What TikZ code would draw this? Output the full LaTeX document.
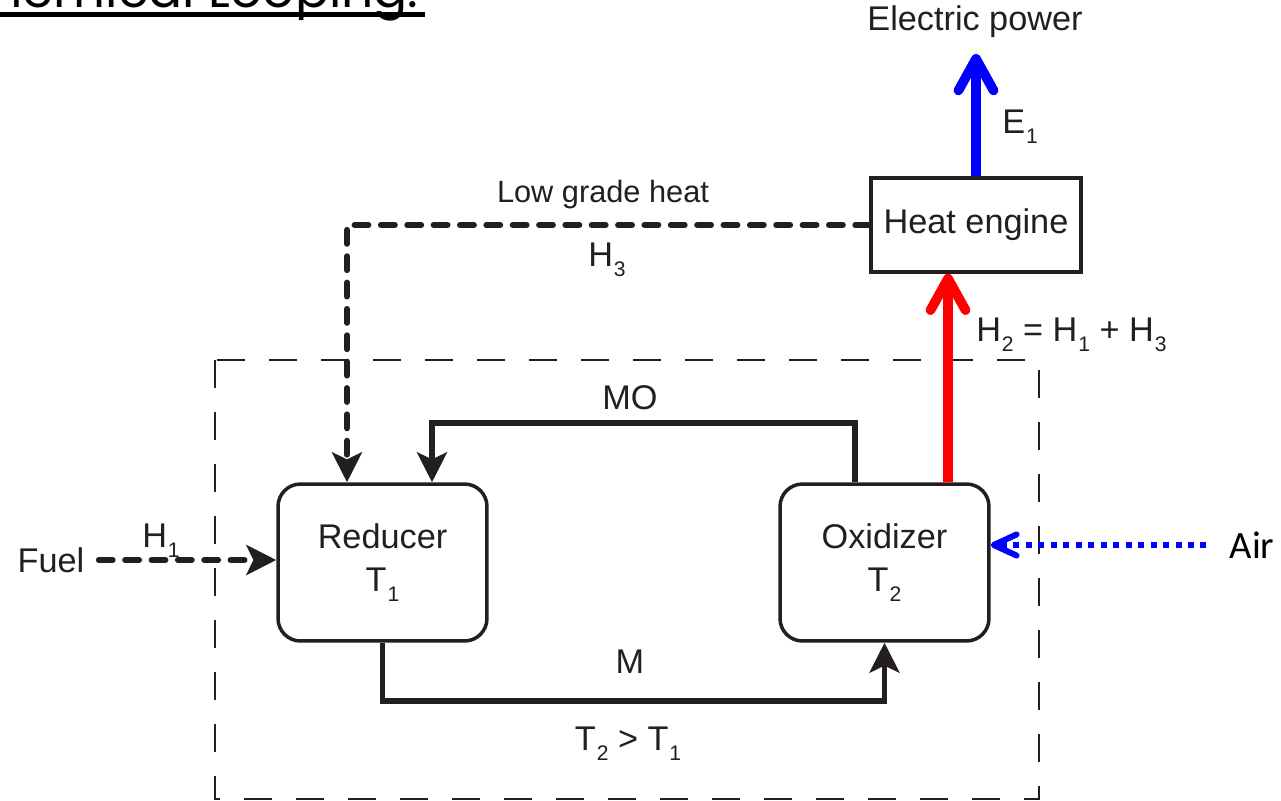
\documentclass[tikz,border=0pt]{standalone}
\usepackage{fontspec}
\setmainfont{Liberation Sans}
\newfontfamily\airfont{Carlito}
\newfontfamily\titlefont{Poppins}
\usepackage{tikz}
\usetikzlibrary{
  arrows.meta,
  positioning,
  calc
}
\definecolor{ink}{HTML}{231F20}
\definecolor{powerblue}{HTML}{0000FF}
\definecolor{hotred}{HTML}{FF0000}
\newcommand{\idx}[1]{\kern0.5pt\raisebox{-6pt}{\fontsize{12}{12}\selectfont #1}}

\begin{document}
\begin{tikzpicture}[
  x=0.02cm, y=-0.02cm,
  reactor/.style={
    draw=ink, line width=2pt, rounded corners=0.45cm,
    minimum width=4.18cm, minimum height=3.14cm,
    align=center, inner sep=0pt, text=ink,
    font=\fontsize{19.5}{24.5}\selectfont,
  },
  engine/.style={
    draw=ink, line width=2pt, minimum width=4.2cm, minimum height=1.88cm,
    inner sep=0pt, text=ink, font=\fontsize{19.5}{23}\selectfont,
  },
  tag/.style={text=ink, inner sep=0pt, font=\fontsize{19.5}{23}\selectfont},
  minor/.style={tag, font=\fontsize{17.5}{21}\selectfont},
  flow/.style={draw=ink, line width=3.2pt, -{Stealth[length=17pt, width=17pt, inset=4pt]}},
  heatflow/.style={flow, line width=3.3pt, dash pattern=on 8pt off 7pt, line cap=round},
  hotflow/.style={draw=hotred, line width=5.5pt, -{Straight Barb[length=18pt, width=20pt, round]}},
  powerflow/.style={hotflow, draw=powerblue},
  airflow/.style={draw=powerblue, line width=3.4pt, dash pattern=on 3.4pt off 3.7pt,
    -{Straight Barb[length=13pt, width=12pt, round]}},
  boundary/.style={draw=ink, line width=1.1pt, dash pattern=on 15.9pt off 13.7pt},
]
\useasboundingbox (0,0) rectangle (1281,801);
\clip (0,0) rectangle (1281,801);
\fill[white] (0,0) rectangle (1281,801);

% Title (cut off at the top)
\node[font=\titlefont\fontsize{28.7}{30}\selectfont, inner sep=0pt, anchor=base east] (ttl) at (419,8) {Chemical Looping:};
\draw[line width=2.3pt] ($(ttl.base west)+(0,6.5)$) -- ($(ttl.base east)+(6,6.5)$);

% System boundary
\draw[boundary] (215,360) rectangle (1039,799);

% Units
\node[reactor] (red) at (382.5,562.5) {Reducer\\T\idx{1}};
\node[reactor] (ox) at (884.5,562.5) {Oxidizer\\T\idx{2}};
\node[engine] (heat) at (976,225) {Heat engine};

\coordinate (moout) at ($(ox.north)+(-29.5,0)$);
\coordinate (moin) at ($(red.north)+(49.5,0)$);
\coordinate (lowin) at ($(red.north)+(-35.5,0)$);
\coordinate (h2out) at ($(ox.north)+(63.5,0)$);
\coordinate (etip) at (976,54);

% Streams in and out
\node[tag] (fuel) at (51,560) {Fuel};
\node[font=\airfont\fontsize{22}{26}\selectfont, inner sep=0pt] (air) at (1252,545) {Air};
\node[tag] (power) at (975,22) {Electric power};

\draw[flow] (moout) -- ++(0,-59) -| (moin);
\draw[flow] (red.south) -- ++(0,58) -| (ox.south);
\draw[heatflow] (heat.west) -| (lowin);
\draw[heatflow, shorten <=8pt] (fuel.east) -- (fuel.east -| red.west);
\draw[airflow, shorten <=13pt] (air.west) -- (air.west -| ox.east);
\draw[hotflow] (h2out) -- (h2out |- heat.south);
\draw[powerflow] (heat.north) -- (etip);

% Stream labels
\node[tag] (mo) at (630,398) {MO};
\node[tag] (m) at (630,662) {M};
\node[tag, anchor=base] (tcmp) at (628,750) {T\idx{2} > T\idx{1}};
\node[tag, anchor=base west] (h1) at (142,547) {H\idx{1}};
\node[minor] (lowheat) at (603,195) {Low grade heat};
\node[tag, anchor=base west] (h3) at (588,266) {H\idx{3}};
\node[tag, anchor=base west] (h2eq) at (976,341) {H\idx{2} = H\idx{1} + H\idx{3}};
\node[tag, anchor=base west] (e1) at (1002,133) {E\idx{1}};

\end{tikzpicture}
\end{document}
